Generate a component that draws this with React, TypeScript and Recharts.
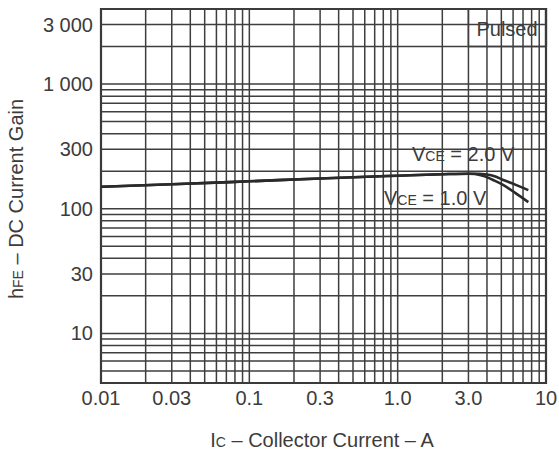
import React from 'react';
import {
  LineChart, Line, XAxis, YAxis, ReferenceLine, ReferenceArea, Label, Customized,
} from 'recharts';

// collector current (A) and DC current gain
const IC_COMMON = [0.01, 0.03, 0.1, 0.3, 1.0, 2.0, 3.0];
const HFE_COMMON = [150, 157, 166, 175, 184, 189, 191];
const IC_VCE2 = [3.5, 4.0, 4.5, 5.1, 6.2, 7.6];
const HFE_VCE2 = [191, 188, 182, 171, 156, 141];
const IC_VCE1 = [3.3, 3.8, 4.5, 5.1, 6.2, 7.6];
const HFE_VCE1 = [190, 183, 168, 156, 134, 113];

const X_TICKS = [0.01, 0.03, 0.1, 0.3, 1, 3, 10];
const X_TICK_LABELS = ['0.01', '0.03', '0.1', '0.3', '1.0', '3.0', '10'];
const Y_TICKS = [10, 30, 100, 300, 1000, 3000];
const Y_TICK_LABELS = ['10', '30', '100', '300', '1 000', '3 000'];

const X_DECADES = [0.01, 0.1, 1];
const Y_DECADES = [1, 10, 100, 1000];
const MANTISSAS = [1, 2, 3, 4, 5, 6, 7, 8, 9];

const X_GRID = [...X_DECADES.flatMap((d) => MANTISSAS.map((m) => +(d * m).toPrecision(3))), 10];
const Y_GRID = Y_DECADES.flatMap((d) => MANTISSAS.map((m) => d * m)).filter((v) => v >= 4 && v <= 4000).concat([4000]);

const toPoints = (xs: number[], ys: number[]) => xs.map((ic, i) => ({ ic, hfe: ys[i] }));
const vce2Data = [...toPoints(IC_COMMON, HFE_COMMON), ...toPoints(IC_VCE2, HFE_VCE2)];
const vce1Data = [...toPoints(IC_COMMON, HFE_COMMON), ...toPoints(IC_VCE1, HFE_VCE1)];

const FONT = '"Liberation Sans", Arial, Helvetica, sans-serif';
const INK = '#3c3c3c';
const GRID = '#3e3e3e';

// label boxes: white patches that blank the grid behind the text
const Annotations = () => (
  <g fontFamily={FONT} fontSize={20} fill={INK}>
    <rect x={468.4} y={9} width={77.6} height={37.5} fill="#fff" stroke={GRID} strokeWidth={1.5} />
    <path d="M468 9 H546 V47" fill="none" stroke="#333" strokeWidth={2.2} />
    <text x={507} y={36} textAnchor="middle">Pulsed</text>
    <rect x={408} y={141} width={113} height={25} fill="#fff" />
    <text x={412} y={161}>V<tspan fontSize={14}>CE</tspan> = 2.0 V</text>
    <rect x={380} y={185} width={114} height={25} fill="#fff" />
    <text x={384} y={205}>V<tspan fontSize={14}>CE</tspan> = 1.0 V</text>
  </g>
);

export default function App() {
  return (
    <div style={{ position: 'absolute', left: 0, top: 0, background: '#fff' }}>
      <LineChart width={559} height={453} margin={{ top: 9, right: 13, left: 0, bottom: 0 }}>
        <XAxis
          dataKey="ic"
          type="number"
          scale="log"
          domain={[0.01, 10]}
          allowDataOverflow
          ticks={X_TICKS}
          interval={0}
          tickFormatter={(v) => X_TICK_LABELS[X_TICKS.indexOf(v)] ?? ''}
          tick={{ fontSize: 20, fill: INK, fontFamily: FONT }}
          tickLine={false}
          axisLine={false}
          height={70}
        >
          <Label
            content={() => (
              <text x={322} y={447} textAnchor="middle" fontFamily={FONT} fontSize={20} fill={INK}>
                I<tspan fontSize={14}>C</tspan> – Collector Current – A
              </text>
            )}
          />
        </XAxis>
        <YAxis
          type="number"
          scale="log"
          domain={[4, 4000]}
          allowDataOverflow
          ticks={Y_TICKS}
          interval={0}
          tickFormatter={(v) => Y_TICK_LABELS[Y_TICKS.indexOf(v)] ?? ''}
          tick={{ fontSize: 20, fill: INK, fontFamily: FONT }}
          tickLine={false}
          axisLine={false}
          width={101}
        >
          <Label
            content={() => (
              <text transform="translate(23,199) rotate(-90)" x={0} y={0} textAnchor="middle" fontFamily={FONT} fontSize={20} fill={INK}>
                h<tspan fontSize={14}>FE</tspan> – DC Current Gain
              </text>
            )}
          />
        </YAxis>

        {X_GRID.map((v) => (
          <ReferenceLine key={`x${v}`} x={v} stroke={GRID} strokeWidth={1.5} />
        ))}
        {Y_GRID.map((v) => (
          <ReferenceLine key={`y${v}`} y={v} stroke={GRID} strokeWidth={1.5} />
        ))}

        <ReferenceArea x1={0.01} x2={10} y1={4} y2={4000} fill="none" stroke="#333" strokeWidth={2.2} />

        <Customized component={Annotations} />

        <Line data={vce2Data} dataKey="hfe" type="monotone" stroke="#2a2a2a" strokeWidth={2.6} dot={false} isAnimationActive={false} />
        <Line data={vce1Data} dataKey="hfe" type="monotone" stroke="#2a2a2a" strokeWidth={2.6} dot={false} isAnimationActive={false} />
      </LineChart>
    </div>
  );
}
